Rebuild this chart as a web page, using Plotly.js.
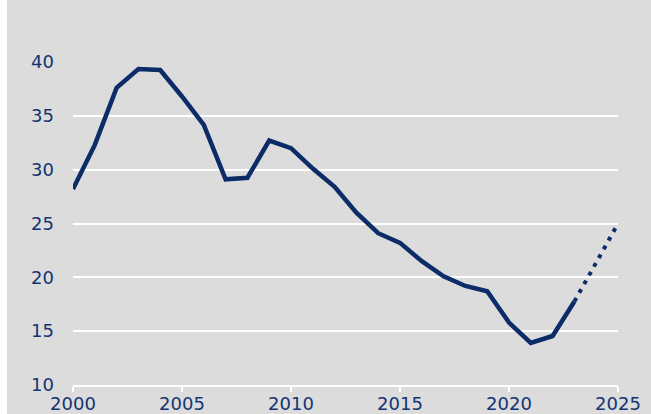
<!DOCTYPE html>
<html>
<head>
<meta charset="utf-8">
<script src="https://cdn.plot.ly/plotly-3.0.1.min.js"></script>
<style>
html,body{margin:0;padding:0;background:#ffffff;}
#chart{position:absolute;left:7px;top:0;width:644px;height:414px;}
</style>
</head>
<body>
<div id="chart"></div>
<script>
// Historical series
const years = [2000,2001,2002,2003,2004,2005,2006,2007,2008,2009,2010,2011,2012,2013,2014,2015,2016,2017,2018,2019,2020,2021,2022,2023];
const values = [28.2,32.3,37.6,39.35,39.25,36.8,34.15,29.1,29.25,32.7,32.0,30.1,28.4,26.0,24.1,23.2,21.5,20.1,19.2,18.7,15.8,13.9,14.55,17.75];
// Projection (dotted)
const projYears = [2023,2024,2025];
const projValues = [17.75,21.4,25.0];
const xTicks = [2000,2005,2010,2015,2020,2025];
const yTicks = [10,15,20,25,30,35,40];

const navy = '#0b2c66';
const textColor = '#123472';
const bg = '#dcdcdc';

const traces = [
  {x: years, y: values, type:'scatter', mode:'lines',
   line:{color:navy, width:4.5}, hoverinfo:'skip'},
  {x: projYears, y: projValues, type:'scatter', mode:'lines',
   line:{color:navy, width:4, dash:'4px,6px'}, hoverinfo:'skip'}
];

const layout = {
  width:644, height:414,
  paper_bgcolor:bg, plot_bgcolor:bg,
  showlegend:false,
  margin:{l:66, r:33, t:62, b:29},
  font:{family:'DejaVu Sans, sans-serif', size:18, color:textColor},
  xaxis:{
    range:[2000,2025], tickvals:xTicks, ticktext:xTicks.map(String),
    showgrid:false, zeroline:false,
    showline:true, linecolor:'#ffffff', linewidth:2,
    ticks:'outside', ticklen:5, tickwidth:2, tickcolor:'#ffffff',
    ticklabelstandoff:-4,
    tickfont:{size:18, color:textColor}
  },
  yaxis:{
    range:[10,40], tickvals:yTicks, ticktext:yTicks.map(String),
    showgrid:true, gridcolor:'#ffffff', gridwidth:2,
    zeroline:false, showline:false, ticks:'',
    ticklabelstandoff:18,
    tickfont:{size:18, color:textColor}
  }
};

Plotly.newPlot('chart', traces, layout, {displayModeBar:false, staticPlot:true});
</script>
</body>
</html>
